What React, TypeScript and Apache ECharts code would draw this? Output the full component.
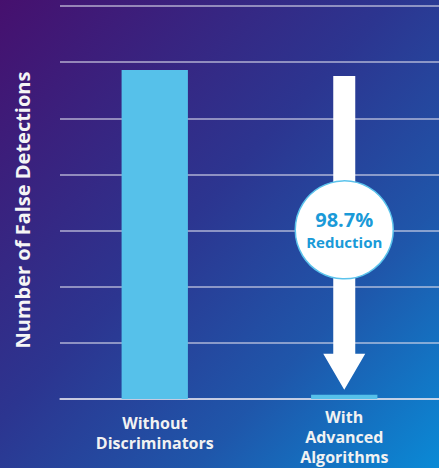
import React, { useEffect, useRef } from "react";
import * as echarts from "echarts";

const categories = ["Without\nDiscriminators", "With\nAdvanced\nAlgorithms"];
const falseDetections = [586, 7.6];
const reductionLabel = "98.7%";
const reductionText = "Reduction";
const yAxisTitle = "Number of False Detections";
const yMax = 700;
const yInterval = 100;

const FONT = "'Open Sans', 'Noto Sans', sans-serif";

export default function App() {
  const ref = useRef<HTMLDivElement>(null);

  useEffect(() => {
    if (!ref.current) return;
    const chart = echarts.init(ref.current, undefined, { renderer: "svg" });
    chart.setOption({
      animation: false,
      backgroundColor: new echarts.graphic.LinearGradient(0, 0, 1, 1, [
        { offset: 0, color: "#46106e" },
        { offset: 0.45, color: "#2c3590" },
        { offset: 0.72, color: "#1f56aa" },
        { offset: 1, color: "#0a8ad6" },
      ]),
      grid: { left: 60, right: 0, top: 6, bottom: 69, containLabel: false },
      xAxis: {
        type: "category",
        data: categories,
        axisLine: { show: true, lineStyle: { color: "rgba(230,230,240,0.85)", width: 1.5 } },
        axisTick: { show: false },
        axisLabel: {
          color: "#f2f2f2",
          fontFamily: FONT,
          fontWeight: "bold",
          fontSize: 16,
          lineHeight: 20,
          margin: 8,
          interval: 0,
          formatter: (v: string, i: number) => {
            const lines = v.split("\n").map((l) => `{a|${l}}`);
            if (i === 0) return ["{g| }", ...lines].join("\n");
            return lines.join("\n");
          },
          rich: {
            a: { color: "#f2f2f2", fontFamily: FONT, fontWeight: "bold", fontSize: 16, lineHeight: 20 },
            g: { fontSize: 4, lineHeight: 6 },
          },
        },
      },
      yAxis: {
        type: "value",
        min: 0,
        max: yMax,
        interval: yInterval,
        axisLabel: { show: false },
        axisLine: { show: false },
        axisTick: { show: false },
        splitLine: { show: true, lineStyle: { color: "rgba(220,220,235,0.75)", width: 1.5 } },
      },
      series: [
        {
          type: "bar",
          data: falseDetections,
          barWidth: "35%",
          itemStyle: { color: "#56c1ea" },
          z: 2,
        },
      ],
    });

    const xc = chart.convertToPixel({ xAxisIndex: 0 }, categories[1]) as number;
    const yTop = (chart.convertToPixel({ yAxisIndex: 0 }, falseDetections[0]) as number) + 6;
    const yTip = (chart.convertToPixel({ yAxisIndex: 0 }, falseDetections[1]) as number) - 5;
    const shaftHalf = 11;
    const headHalf = 21;
    const headLen = 36;
    const cy = (yTop + yTip) / 2 - 3;
    const r = 49;

    chart.setOption({
      graphic: [
        {
          type: "polygon",
          z: 10,
          shape: {
            points: [
              [xc - shaftHalf, yTop],
              [xc + shaftHalf, yTop],
              [xc + shaftHalf, yTip - headLen],
              [xc + headHalf, yTip - headLen],
              [xc, yTip],
              [xc - headHalf, yTip - headLen],
              [xc - shaftHalf, yTip - headLen],
            ],
          },
          style: { fill: "#ffffff" },
        },
        {
          type: "circle",
          z: 11,
          shape: { cx: xc, cy, r },
          style: { fill: "#ffffff", stroke: "#5bc3ec", lineWidth: 1.5 },
        },
        {
          type: "text",
          z: 12,
          x: xc,
          y: cy - 10,
          style: {
            text: reductionLabel,
            fill: "#1a9ad8",
            font: `bold 20px ${FONT}`,
            lineHeight: 20,
            align: "center",
            verticalAlign: "middle",
          },
        },
        {
          type: "text",
          z: 12,
          x: xc,
          y: cy + 12,
          style: {
            text: reductionText,
            fill: "#1a9ad8",
            font: `bold 15px ${FONT}`,
            lineHeight: 15,
            align: "center",
            verticalAlign: "middle",
          },
        },
        {
          type: "text",
          z: 12,
          x: 22,
          y: 210,
          rotation: Math.PI / 2,
          style: {
            text: yAxisTitle,
            fill: "#f5f5f5",
            font: `bold 20px ${FONT}`,
            align: "center",
            verticalAlign: "middle",
          },
        },
      ],
    });

    return () => chart.dispose();
  }, []);

  return (
    <div
      ref={ref}
      style={{ position: "fixed", left: 0, top: 0, width: 439, height: 468 }}
    />
  );
}
